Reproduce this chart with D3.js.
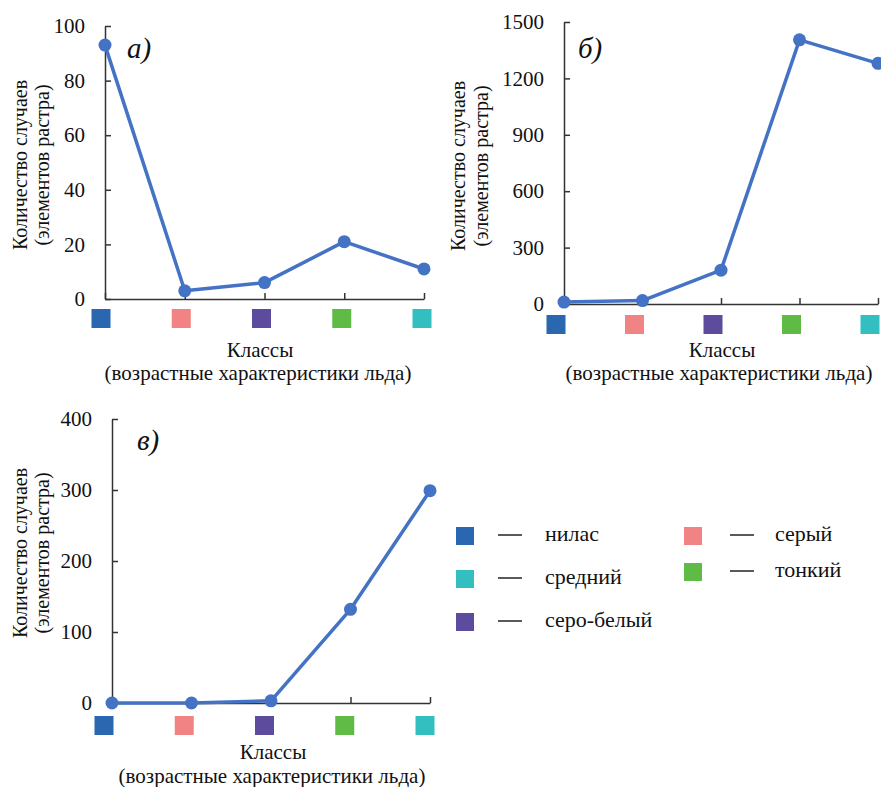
<!DOCTYPE html>
<html>
<head>
<meta charset="utf-8">
<script src="https://cdn.jsdelivr.net/npm/d3@7"></script>
<style>
  body { margin: 0; background: #fff; }
  svg { display: block; }
  svg text { font-family: "Liberation Serif", "DejaVu Serif", "Times New Roman", Times, "Noto Serif", serif; }
</style>
</head>
<body>
<svg id="chart" width="881" height="787"></svg>
<script>
// классы льда и их цвета
var classes = ["нилас", "серый", "серо-белый", "тонкий", "средний"];
var classColors = ["#2b66b1", "#f28384", "#5d4b9d", "#5fba46", "#33bfc0"];

// количество случаев по панелям
var countsA = [93, 3, 6, 21, 11];
var countsB = [10, 18, 180, 1405, 1280];
var countsC = [0, 0, 3, 132, 299];

var ticksA = [0, 20, 40, 60, 80, 100];
var ticksB = [0, 300, 600, 900, 1200, 1500];
var ticksC = [0, 100, 200, 300, 400];

var legendColumns = [["нилас", "средний", "серо-белый"], ["серый", "тонкий"]];

var yTitle = ["Количество случаев", "(элементов растра)"];
var xTitle = ["Классы", "(возрастные характеристики льда)"];

var lineColor = "#4472c4",
    axisColor = "#333";

var svg = d3.select("#chart");

var panels = [
  {label: "а)", values: countsA, ticks: ticksA,
   x0: 105, x1: 424, y0: 299, y1: 26, sq: [101, 422], sqTop: 309,
   labelAt: [127, 58], yt: [27, 49, 165], xt: [260, 357, 258, 380]},
  {label: "б)", values: countsB, ticks: ticksB,
   x0: 564, x1: 878, y0: 304, y1: 22, sq: [556, 870], sqTop: 315,
   labelAt: [578, 58], yt: [465, 488, 166], xt: [722, 357, 719, 380]},
  {label: "в)", values: countsC, ticks: ticksC,
   x0: 112, x1: 430, y0: 703, y1: 419, sq: [104, 425], sqTop: 716,
   labelAt: [137, 450], yt: [27, 49, 553], xt: [273, 759, 272, 783]}
];

panels.forEach(drawPanel);

function drawPanel(p) {
  var g = svg.append("g");

  var x = d3.scalePoint()
    .domain(classes)
    .range([p.x0, p.x1]);

  var y = d3.scaleLinear()
    .domain([0, d3.max(p.ticks)])
    .range([p.y0, p.y1]);

  var xs = d3.scalePoint()
    .domain(classes)
    .range(p.sq);

  var color = d3.scaleOrdinal()
    .domain(classes)
    .range(classColors);

  var xAxis = g.append("g")
    .attr("transform", `translate(0,${p.y0})`)
    .call(d3.axisBottom(x).tickSizeInner(-6).tickSizeOuter(0).tickFormat(""));

  var yAxis = g.append("g")
    .attr("transform", `translate(${p.x0},0)`)
    .call(d3.axisLeft(y).tickValues(p.ticks).tickSizeInner(-6).tickSizeOuter(0)
      .tickPadding(20).tickFormat(d3.format("d")));

  g.selectAll(".domain, .tick line")
    .attr("stroke", axisColor)
    .attr("stroke-width", 1.5);

  yAxis.selectAll("text")
    .attr("font-size", 21)
    .attr("fill", "#111");

  var line = d3.line()
    .x((d, i) => x(classes[i]))
    .y(d => y(d));

  g.append("path")
    .datum(p.values)
    .attr("fill", "none")
    .attr("stroke", lineColor)
    .attr("stroke-width", 3.5)
    .attr("stroke-linejoin", "round")
    .attr("d", line);

  g.selectAll("circle")
    .data(p.values)
    .enter().append("circle")
    .attr("cx", (d, i) => x(classes[i]))
    .attr("cy", d => y(d))
    .attr("r", 6.5)
    .attr("fill", lineColor);

  g.selectAll("rect.cls")
    .data(classes)
    .enter().append("rect")
    .attr("class", "cls")
    .attr("x", d => xs(d) - 9.5)
    .attr("y", p.sqTop)
    .attr("width", 19)
    .attr("height", 19)
    .attr("fill", d => color(d));

  g.append("text")
    .attr("x", p.labelAt[0])
    .attr("y", p.labelAt[1])
    .attr("font-size", 29)
    .attr("font-style", "italic")
    .attr("fill", "#111")
    .text(p.label);

  yTitle.forEach(function(t, i) {
    g.append("text")
      .attr("transform", `translate(${p.yt[i]},${p.yt[2]}) rotate(-90)`)
      .attr("text-anchor", "middle")
      .attr("font-size", 20)
      .attr("fill", "#111")
      .text(t);
  });

  xTitle.forEach(function(t, i) {
    g.append("text")
      .attr("x", p.xt[i * 2])
      .attr("y", p.xt[i * 2 + 1])
      .attr("text-anchor", "middle")
      .attr("font-size", 21)
      .attr("fill", "#111")
      .text(t);
  });
}

// легенда
var legendColor = d3.scaleOrdinal().domain(classes).range(classColors);
var legendCols = [{x: 456, top: 527, gap: 43}, {x: 684, top: 527, gap: 36}];

var legend = svg.append("g");

legendColumns.forEach(function(col, c) {
  var lc = legendCols[c];
  var item = legend.selectAll(".item" + c)
    .data(col)
    .enter().append("g")
    .attr("class", "item" + c)
    .attr("transform", (d, i) => `translate(${lc.x},${lc.top + i * lc.gap})`);

  item.append("rect")
    .attr("width", 18)
    .attr("height", 18)
    .attr("fill", d => legendColor(d));

  item.append("line")
    .attr("x1", 42 + c * 4)
    .attr("x2", 66 + c * 4)
    .attr("y1", 8)
    .attr("y2", 8)
    .attr("stroke", "#222")
    .attr("stroke-width", 1.5);

  item.append("text")
    .attr("x", 89 + c * 2)
    .attr("y", 14)
    .attr("font-size", 22)
    .attr("fill", "#111")
    .text(d => d);
});
</script>
</body>
</html>
